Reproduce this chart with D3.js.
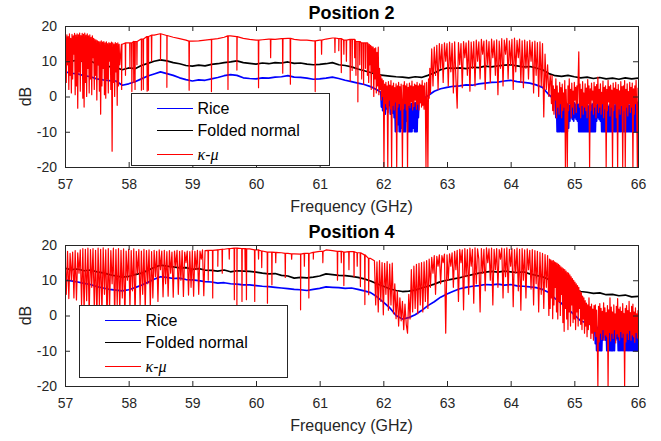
<!DOCTYPE html>
<html>
<head>
<meta charset="utf-8">
<script src="https://cdn.jsdelivr.net/npm/d3@7"></script>
<style>
    body { margin: 0; background: #fff; }
    text { font-family: "Liberation Sans", Arial, sans-serif; }
</style>
</head>
<body>
<div class="main_content"></div>
<script>

// Frequency grid (GHz) for the smooth series, and axis ticks
const freqGrid = d3.range(570, 661).map(d => d / 10);
const xTicks = [57, 58, 59, 60, 61, 62, 63, 64, 65, 66];
const yTicks = [-20, -10, 0, 10, 20];
const legendLabels = ['Rice', 'Folded normal', 'κ-μ'];
const panelTitles = ['Position 2', 'Position 4'];

// ---------- Position 2 ----------
const riceP2 = [
    7.0, 6.6, 6.4, 5.9, 5.6, 5.0, 4.7, 4.5, 4.4, 3.2,
    3.6, 4.2, 5.0, 5.8, 6.4, 7.0, 6.5, 6.0, 5.3, 4.8,
    4.4, 4.7, 4.6, 5.0, 5.4, 5.9, 6.2, 6.0, 5.3, 5.1,
    5.0, 5.3, 5.2, 5.5, 5.6, 5.9, 5.5, 5.4, 5.2, 4.9,
    5.0, 5.2, 5.5, 5.1, 4.6, 4.2, 3.8, 3.4, 2.8, 1.9,
    0.8, -0.5, -1.5, -2.0, -2.2, -1.8, -1.0, 0.2, 1.5, 2.2,
    2.6, 2.9, 3.0, 3.3, 3.2, 3.6, 3.8, 4.0, 4.1, 4.4,
    4.6, 4.2, 4.0, 3.8, 3.3, 2.6, 0.5, -1.5, -2.0, -2.2,
    -1.8, -2.5, -2.0, -2.8, -2.3, -2.6, -2.1, -2.9, -2.4, -2.0,
    -1.5
];
const foldedP2 = [
    10.2, 10.0, 10.3, 9.8, 10.1, 9.2, 8.8, 8.5, 8.2, 7.6,
    8.1, 7.9, 8.8, 9.4, 10.0, 10.4, 10.1, 9.6, 9.3, 8.8,
    8.6, 8.9, 8.7, 9.1, 9.3, 9.6, 9.8, 10.1, 9.6, 9.4,
    9.2, 9.5, 9.3, 9.6, 9.5, 9.8, 9.4, 9.5, 9.2, 9.0,
    9.1, 9.3, 9.6, 9.0, 8.8, 8.4, 7.8, 7.3, 6.8, 6.2,
    6.0, 5.8, 5.6, 5.5, 5.3, 5.6, 5.4, 6.0, 6.7, 7.6,
    8.1, 8.0, 8.1, 7.9, 8.3, 8.2, 8.6, 8.4, 8.7, 8.9,
    9.0, 8.7, 8.4, 8.5, 8.1, 7.6, 6.5, 5.9, 5.7, 6.0,
    5.6, 5.3, 5.5, 5.1, 5.4, 5.0, 5.2, 4.9, 5.3, 5.0,
    5.2
];
// dense stretches of the Rice curve, sampled every 0.01 GHz
const riceP2BurstA = {start: 61.96, step: 0.01, values: [
    1.2, -3, 0.8, -4, 1, -2, 0.5, -5, 0.2, -3.5,
    -0.2, -4.5, 0, -2.5, -0.5, -5, -0.8, -3, -1, -4.8,
    -1.2, -6, -1.3, -10, -1.5, -10, -1.8, -8, -1.6, -10,
    -2, -10, -1.8, -9, -2.1, -10, -2, -10, -2.3, -10,
    -2.2, -7, -2.1, -10, -2.4, -10, -2.2, -10, -2, -10,
    -2.1, -9, -1.9, -10, -1.8, -10, -1.7, -10, -1.5, -6,
    -1.3
]};
const riceP2BurstB = {start: 64.70, step: 0.01, values: [
    -1, -6, -1.5, -10, -1.8, -10, -2, -10, -1.6, -10,
    -2.2, -10, -1.9, -10, -2.4, -10, -2, -10, -2.3, -10,
    -2.1, -9, -2.5, -7, -2.2, -6, -2, -6.5, -2.4, -7,
    -1.8, -6, -2.2, -6.5, -1.9, -7, -2.3, -10, -2, -10,
    -2.5, -10, -2.1, -10, -2.6, -10, -2.2, -10, -2.4, -10,
    -2, -10, -2.7, -10, -2.3, -10, -2.5, -10, -2.1, -10,
    -2.8, -10, -2.4, -10, -2.6, -7, -2.2, -6, -2.5, -6.5,
    -2.3, -7, -2.7, -10, -2.2, -10, -2.6, -10, -2.4, -10,
    -2.6, -10, -2.2, -10, -2.8, -10, -2.3, -10, -2.5, -10,
    -2.1, -10, -2.7, -10, -2.3, -10, -2.9, -10, -2.4, -10,
    -2.6, -10, -2.2, -10, -2.8, -10, -2.5, -10, -2.3, -10,
    -2.7, -10, -2.4, -10, -2.1, -10, -2.6, -10, -2.2, -10,
    -2, -10, -2.4, -10, -1.8, -10, -2.2, -10, -1.6, -10,
    -1.5
]};
// kappa-mu: upper envelope in the calm part, single drop-outs, dense stretches
const kmuP2Calm = [
    [57.9, 14.8], [58.0, 15.2], [58.1, 15.6], [58.2, 16.3], [58.3, 17.0], [58.4, 17.4],
    [58.5, 17.8], [58.6, 17.3], [58.7, 16.8], [58.8, 16.4], [58.9, 16.0], [59.0, 15.7],
    [59.1, 15.8], [59.2, 16.0], [59.3, 16.2], [59.4, 16.4], [59.5, 16.8], [59.6, 17.2],
    [59.7, 17.0], [59.8, 16.5], [59.9, 16.2], [60.0, 16.0], [60.1, 16.1], [60.2, 16.3],
    [60.3, 16.2], [60.4, 16.4], [60.5, 16.5], [60.6, 16.2], [60.7, 16.0], [60.8, 16.0],
    [60.9, 15.8], [61.0, 16.0], [61.1, 16.3], [61.2, 16.6], [61.3, 16.4], [61.4, 16.0],
    [61.5, 16.2], [61.6, 15.6], [61.7, 15.2]
];
const kmuP2Dips = [
    [57.89, 2], [57.95, 6], [58.02, 8], [58.05, 1.4], [58.08, 4], [58.10, 2], [58.13, 9],
    [58.20, 1.8], [58.23, 2], [58.29, 1.5], [58.31, 1.8], [58.36, 10], [58.50, 10.4],
    [58.60, 2.6], [58.95, 1.8], [59.30, 1.4], [59.56, 2], [59.70, 7.5], [60.04, 2.5],
    [60.23, 11], [60.42, 6.6], [60.54, 3.5], [60.93, 1.4], [61.03, 12], [61.24, 12.5],
    [61.30, 13], [61.34, 6.8], [61.38, 12], [61.42, 10], [61.48, 4.4], [61.51, 7.4],
    [61.55, 11], [61.57, 6], [61.60, -1.5], [61.63, 9], [61.66, 5], [61.69, 3.5],
    [61.72, 8], [61.75, 6]
];
const kmuP2BurstA = {start: 57.00, step: 0.01, values: [
    -9, 17, 4, 17.5, 9, 17, 2, 17.8, 6, 16.5,
    1, 17.6, 5, 17.2, 12, 17.9, 0.5, 17.4, 3, 17.8,
    -3.3, 17.5, 7, 18, 1.5, 17.3, 10, 17.9, -0.5, 17.6,
    -3, 18, 4, 17.4, 0, 17.8, 8, 17.2, 1, 17.5,
    5, 16.8, 0.5, 17.2, 11, 16.5, 2, 16.2, 6, 16.0,
    -1, 15.8, 9, 15.6, 1.5, 15.5, -5, 15.8, 3, 15.4,
    8, 15.6, 0.5, 15.2, -0.5, 15.5, 5, 15.0, 1, 15.3,
    10, 15.1, 2, 15.4, -15.5, 15.2, 4, 14.9, 0, 15.3,
    7, 15.0, -2.5, 15.2, 3, 14.8, 9
]};
const kmuP2BurstB = {start: 61.76, step: 0.01, values: [
    15.0, 4, 14.8, 9, 14.5, 2, 14.2, 7, 14.0, 0,
    13.6, 5, 13.8, 1, 12.5, 3, 14, 0.5, 8, 2,
    6, -1, 5, 0, 4.5, -20, 3.5, -2, 4, -3,
    3, -20, 4.2, -1, 3.2, -3.5, 4.5, -20, 3, -2.5,
    3.8, -3.8, 2.5, -1.5, 3.6, -20, 3, -3, 4, -2,
    2.8, -3.8, 3.5, -1, -20, 3.2, -3.5, 4.2, -2, 3,
    -3.8, 3.6, -20, 2.6, -2.5, 3.8, -3.2, 3, -1.5, 4.4,
    -3.8, 2.8, -2.8, 3.5, -1, 3.2, -3.6, 4, -2.2, 3,
    -3.8, 3.6, -1.8, 3.2, -3, 4.5, -2.5, 3, -3.6, 3.8,
    -1, -20, 4, -2, -20, 5, -0.5, 8, 1
]};
const kmuP2BurstC = {start: 62.76, step: 0.02, values: [
    13.5, 3, 14, 6, 14.5, 2, 15, 8, 14.8, 4,
    15.2, 10, 15, 3, 15.4, 7, 15.1, 1, 15.5, 5,
    -3.3, 15.3, 9, 15, 2.5, 15.6, 11, 15.2, 6, 15.8,
    1.5, 15.4, 8, 15.6, 3, 16, 10, 15.5, 5, 16.2,
    12, 15.7, 2, 16, 9, 15.6, 4, 16.3, 11, 15.8,
    6, 16.1, 0.5, 15.7, 8, 16.4, 3, 16, 12, 16.5,
    5, 15.8, 9, 16.2, 2, 16.6, 7, 15.9, 11, 16.3,
    4, 15.8, 2.5, 16, 8, 15.6, 5, 15.9, 10, 15.4,
    1, 15.7, 6, 15.3, 0, 15.5, 3, 15, -5.8, 12,
    2, 9, 0, 6
]};
const kmuP2BurstD = {start: 64.63, step: 0.01, values: [
    4, -2, 6, -4, 3, -5, 2, -1, 5, -6,
    3, -3, 1, -5, 4, -2, 2.5, -6, 3.5, -4,
    1, -3, 4.5, -20, 2, -5, -20, 3, -4, 5,
    -2, 2, -6, 3.8, -3, 1.5, -5, 4, -1, 2.6,
    -4.5, 3, -2, 5, 12.7, -3, 3.5, -6, 2, -2.5,
    4.2, -5, 1, -3, 3.6, -4, 2.4, -6, 4.8, -2,
    3, -20, 2.2, -4, 3.8, -1, 1.5, -5, 4, -3,
    2.8, -6, 3.4, -2, 5.5, -4.5, 2, -3, 3.6, -5,
    1.2, -2, 4.4, -6, 2.6, -3.5, 3, -20, 2, -4,
    4.6, -1.5, 2.8, -5.5, 3.2, -3, 1.8, -20, 3.8, -4,
    2.4, -2, 4, -6, 2, -20, 3.4, -3.5, 1.6, -5,
    4.2, -2.5, 2.8, -20, 3, -4, 4.5, -20, 2, -3,
    3.6, -5.5, 1.4, -2, 4, -4.5, 2.6, -3, 3.8, -20,
    2.2, -5, 3, -2, 4.6, -4, -20, 2.5
]};

// ---------- Position 4 ----------
const riceP4 = [
    10.1, 9.8, 9.5, 9.1, 8.8, 8.2, 7.8, 7.4, 7.2, 7.0,
    7.3, 7.9, 8.6, 9.4, 10.3, 11.0, 10.8, 10.5, 10.6, 10.2,
    10.1, 9.9, 9.6, 9.5, 9.2, 9.3, 9.0, 8.9, 8.7, 8.7,
    8.5, 8.3, 8.2, 8.0, 7.8, 7.6, 7.4, 7.3, 7.1, 7.4,
    7.7, 8.1, 8.0, 7.9, 7.7, 7.8, 7.4, 7.0, 6.5, 5.3,
    3.8, 2.2, 0.0, -1.0, -0.6, 0.2, 1.4, 2.8, 3.9, 5.2,
    6.1, 6.9, 7.6, 8.0, 8.3, 8.5, 8.8, 8.7, 8.9, 8.6,
    8.8, 8.4, 8.3, 8.1, 7.9, 7.4, 6.5, 4.8, 3.4, 1.8,
    0.2, -1.5, -2.2, -3.0, -3.4, -3.2, -3.6, -3.1, -3.5, -3.0,
    -2.5
];
const foldedP4 = [
    13.4, 13.0, 13.2, 12.7, 12.9, 12.4, 12.1, 11.6, 11.2, 10.9,
    11.1, 11.6, 12.0, 12.8, 13.6, 14.3, 14.0, 13.8, 13.5, 13.6,
    13.1, 13.3, 12.9, 12.8, 12.6, 12.9, 12.4, 12.7, 12.6, 12.5,
    12.3, 12.0, 11.8, 11.9, 11.4, 11.2, 10.6, 10.8, 10.7, 10.9,
    11.2, 11.8, 11.6, 11.4, 11.3, 11.1, 10.8, 10.4, 9.8, 9.0,
    8.3, 7.6, 7.1, 6.8, 6.9, 7.2, 7.8, 8.3, 8.9, 9.6,
    10.0, 10.4, 10.7, 11.2, 11.6, 12.0, 12.3, 12.5, 12.3, 12.6,
    12.4, 12.2, 12.4, 11.8, 11.4, 11.0, 10.2, 9.4, 8.6, 7.8,
    7.3, 6.8, 6.6, 6.3, 6.4, 5.9, 6.0, 5.6, 5.8, 5.3,
    5.4
];
const riceP4Burst = {start: 65.32, step: 0.01, values: [
    -3, -8, -3.2, -10, -3.4, -10, -3, -10, -3.5, -10,
    -3.2, -10, -3.6, -7, -3.1, -6, -3.3, -7, -3.4, -10,
    -3, -10, -3.5, -10, -3.2, -10, -3.7, -10, -3.3, -10,
    -3.5, -10, -3.1, -7, -3.4, -6.5, -3.2, -10, -3.6, -10,
    -3.3, -10, -3.5, -10, -3.2, -10, -3.6, -10, -3.4, -10,
    -3.1, -10, -3.5, -10, -3.3, -10, -3, -10, -3.4, -10,
    -2.9, -10, -3.1, -10, -2.8, -10, -2.6, -10, -2.5
]};
const kmuP4Calm = [
    [59.3, 18.5], [59.4, 18.6], [59.5, 18.8], [59.6, 19.0], [59.7, 19.1], [59.8, 19.0],
    [59.9, 18.9], [60.0, 18.6], [60.1, 18.3], [60.2, 18.0], [60.3, 17.9], [60.4, 17.8],
    [60.5, 17.6], [60.6, 17.5], [60.7, 17.4], [60.8, 17.6], [60.9, 17.9], [61.0, 18.2],
    [61.1, 18.6], [61.2, 18.4], [61.3, 18.2], [61.4, 18.0], [61.5, 18.1], [61.6, 17.8],
    [61.7, 17.2], [61.8, 16.2]
];
const kmuP4Dips = [
    [59.25, 10], [59.32, 5], [59.40, 14], [59.47, 12], [59.58, 16], [59.66, 4.5],
    [59.70, 3], [59.78, 4], [59.83, 13], [59.85, 4.5], [59.98, 4], [60.04, 16],
    [60.09, 13.6], [60.18, 3.5], [60.25, 8.7], [60.31, 15], [60.46, 10.8], [60.56, 16],
    [60.70, 1.6], [60.76, 14], [60.83, 5], [60.90, 16], [61.05, 15], [61.28, 10],
    [61.34, 15], [61.38, 8.5], [61.46, 13], [61.54, 11], [61.59, 14], [61.64, 8.2],
    [61.71, 3.1], [61.77, 5.9]
];
const kmuP4BurstA = {start: 57.00, step: 0.02, values: [
    18, 6, 18.2, 4.8, 17.6, 10, 18, 5, 18.4, 4.4,
    17.8, 12, 18.6, 3, 19, 1, 18.8, 4.2, 19.1, 0,
    18.7, 8, 19, 2, 18.5, -1, 19.1, 3, 18.8, 0.5,
    19.2, 6, 18.6, -2, 19, 2, 18.4, 9, 19.1, 0,
    18.7, 3, 19, 1, 18.5, 5, 18.9, -1, 18.3, 10,
    18.8, 2, 18.4, 7, 18.9, 0, 18.2, 12, 18.7, 3,
    18.3, 6, 18.8, 1.5, 18.4, 9, 18.6, 2.5, 18.1, 5,
    18.5, 11, 18.2, 4, 18.6, 13, 18.3, 5.3, 18.5, 9,
    18.1, 5.5, 18.4, 12, 18, 5.2, 18.3, 14, 18.5, 6,
    18.2, 10, 18.4, 5.4, 18, 15, 18.3, 5.8, 18.1, 8,
    18.4, 5.5, 18.2, 13, 18.5, 6, 18.3, 16, 18.6, 5.6,
    18.4
]};
const kmuP4BurstB = {start: 61.86, step: 0.02, values: [
    15.5, 3, 15.2, 1, 15.6, 4, 15, 0.2, 14.8, 6,
    15.3, 1.5, 14.6, 3, 14.9, 0.5, 9, -0.9, 7, -3,
    5, -1.5, 4, -4, 3.2, -2.5, -5, 6, -1, 13,
    1, 14, 2, 14.5, 0.5, 14.8, 3, 15, 1, 15.2,
    4, 15.6, 2, 16, 8, 16.5, 12, 17, 6, 16.8,
    14, 17.2, 9, 17, 15, 17.4, -5, 17.2, 10, 17.5,
    14
]};
const kmuP4BurstC = {start: 63.08, step: 0.02, values: [
    17.8, 8, 18.2, 13, 18.5, 4, 18.8, 15, 18.6, 1.6,
    19, 11, 18.7, 6, 19.1, 14, 18.8, 3.5, 19.2, 9,
    18.9, 16, 1, 19, 12, 18.8, 7, 19.2, 15, 18.9,
    10, 19.1, 3, 18.8, 13, 19, 8, 18.7, 16, 19.1,
    5, 18.9, 11, 19.2, 6.5, 18.8, 14, 19, 2.5, 18.7,
    12, 19.1, 7, 18.8, 1.5, 19, 10, 18.6, 5, 18.9,
    13, 18.5, 7.5, 18.7, 3, 18.4, 9, 18.2, 1, 17.9,
    6, 17.6, 2, 17.3, 8, 17, 0
]};
const kmuP4BurstD = {start: 64.61, step: 0.01, values: [
    16, 2, 15.8, 5, 15.5, -0.9, 15.6, 3, 15.2, 8,
    15, 1, 14.8, -1, 14.5, 4, 14.2, 0, 13.8, 6,
    13.5, -2, 13.2, -4.5, 13, 2, 12.6, -1, 12.2, -4,
    12, 1, 11.5, -3, 11, 3, 10.5, -2, 10, -1,
    9.5, -4, 9, 1, 8.5, -3, 8, 2, 7, -2.5,
    6.5, -4, 5.5, -1, 5, -5, 4.2, -3, 3.5, -6,
    3, -4, 5, -2.5, 2.5, -6.5, 3.2, -5, 1.8, -7,
    2.8, -4.5, 3, -6, 1.5, -5.5, -20, 2.6, -7.5, 3.4,
    -5, 2, -6.8, 1.2, -4, 3.6, -7, 2.2, -5.5, 0.8,
    -6, 2.8, -20, 1.6, -4.8, 5, -7.2, 2.4, -5, 1,
    -6.5, 3, -4, 0.5, -7.8, 2.6, -5.2, 4.8, -6, 1.8,
    -7, 2.4, -4.5, 1.2, -6.2, 3.4, -5, 0.6, -20, 2,
    -7.5, 2.8, -5, 1.4, -6.8, 4, -4.2, 0.8, -7, 2.6,
    -5.5, 3.2, -6, 1, -7.6, 2.2, -4.8, 0.5, -6.4, 1.5
]};


// helpers to turn the arrays above into [freq, dB] point lists
function burstPoints (bursts) {
    let pts = [];
    bursts.forEach(b => {
        b.values.forEach((v, i) => pts.push([+(b.start + i * b.step).toFixed(3), v]));
    });
    return pts;
}

function inBurst (f, bursts) {
    return bursts.some(b => f >= b.start - 1e-6 && f <= b.start + (b.values.length - 1) * b.step + 1e-6);
}

function gridSeries (values, bursts) {
    let pts = freqGrid.map((f, i) => [f, values[i]])
        .filter(p => !inBurst(p[0], bursts));
    return pts.concat(burstPoints(bursts)).sort((a, b) => a[0] - b[0]);
}

function kmuSeries (calm, dips, bursts) {
    let pts = calm.slice();
    dips.forEach(dip => {
        // shoulder of the drop-out sits on the nearest envelope value
        let base = calm.reduce((best, c) => Math.abs(c[0] - dip[0]) < Math.abs(best[0] - dip[0]) ? c : best)[1];
        pts.push([dip[0] - 0.004, base], dip, [dip[0] + 0.004, base]);
    });
    return pts.concat(burstPoints(bursts)).sort((a, b) => a[0] - b[0]);
}


/**
 * One subplot: three measured fits over 57-66 GHz, matlab style box axes.
 */
class PositionChart {
    constructor (svg) {
        this.svg = svg;
        this.plotLeft = 65;
        this.plotRight = 638;
        this.plotHeight = 141;
        this.axisColor = '#262626';
        this.colors = ['#0000ff', '#000000', '#ff0000'];
        // measured curves are noisy, so the smooth ones get a bit of body
        this.widths = [1.7, 1.7, 1.2];
        this.xScale = d3.scaleLinear()
            .domain([57, 66])
            .range([this.plotLeft, this.plotRight]);
    }

    styleAxis (g, size) {
        g.attr('font-family', null).attr('font-size', null);
        g.select('.domain').remove();
        g.selectAll('line').attr('stroke', this.axisColor);
        g.selectAll('text')
            .style('font-size', size + 'px')
            .attr('fill', this.axisColor);
    }

    render (p) {
        let top = p.top;
        let bottom = top + this.plotHeight;
        let that = this;

        let yScale = d3.scaleLinear()
            .domain([-20, 20])
            .range([bottom, top]);

        let panel = this.svg.append('g').classed('panel', true);

        panel.append('clipPath')
            .attr('id', 'clip' + p.id)
            .append('rect')
            .attr('x', this.plotLeft)
            .attr('y', top)
            .attr('width', this.plotRight - this.plotLeft)
            .attr('height', this.plotHeight);

        // Series, drawn in legend order so kappa-mu ends on top
        let series = [
            gridSeries(p.rice, p.riceBursts),
            gridSeries(p.folded, []),
            kmuSeries(p.kmuCalm, p.kmuDips, p.kmuBursts)
        ];

        let line = d3.line()
            .x(d => this.xScale(d[0]))
            .y(d => yScale(d[1]));

        panel.append('g')
            .attr('clip-path', 'url(#clip' + p.id + ')')
            .selectAll('path')
            .data(series)
            .enter()
            .append('path')
            .attr('d', d => line(d))
            .attr('fill', 'none')
            .attr('stroke', (d, i) => this.colors[i])
            .attr('stroke-width', (d, i) => this.widths[i])
            .attr('stroke-linejoin', 'round');

        // Axes, ticks pointing inward on all four sides
        let xAxis = d3.axisBottom(this.xScale).tickValues(xTicks).tickSize(-5).tickPadding(12).tickFormat(d => d);
        let xAxisTop = d3.axisTop(this.xScale).tickValues(xTicks).tickSize(-5).tickFormat('');
        let yAxis = d3.axisLeft(yScale).tickValues(yTicks).tickSize(-5).tickPadding(8).tickFormat(d => d);
        let yAxisRight = d3.axisRight(yScale).tickValues(yTicks).tickSize(-5).tickFormat('');

        panel.append('g').attr('transform', 'translate(0,' + bottom + ')').call(xAxis).call(g => that.styleAxis(g, 14));
        panel.append('g').attr('transform', 'translate(0,' + top + ')').call(xAxisTop).call(g => that.styleAxis(g, 14));
        panel.append('g').attr('transform', 'translate(' + this.plotLeft + ',0)').call(yAxis).call(g => that.styleAxis(g, 14));
        panel.append('g').attr('transform', 'translate(' + this.plotRight + ',0)').call(yAxisRight).call(g => that.styleAxis(g, 14));

        panel.append('rect')
            .attr('x', this.plotLeft + 0.5)
            .attr('y', top + 0.5)
            .attr('width', this.plotRight - this.plotLeft)
            .attr('height', this.plotHeight)
            .attr('fill', 'none')
            .attr('stroke', this.axisColor)
            .attr('stroke-width', 1);

        // Title and labels
        panel.append('text')
            .attr('x', (this.plotLeft + this.plotRight) / 2)
            .attr('y', top - 7)
            .attr('text-anchor', 'middle')
            .style('font-size', '18px')
            .style('font-weight', 'bold')
            .text(p.title);

        panel.append('text')
            .attr('x', (this.plotLeft + this.plotRight) / 2)
            .attr('y', bottom + 44.5)
            .attr('text-anchor', 'middle')
            .attr('fill', this.axisColor)
            .style('font-size', '16px')
            .text('Frequency (GHz)');

        panel.append('text')
            .attr('transform', 'translate(31,' + (top + bottom) / 2 + ') rotate(-90)')
            .attr('text-anchor', 'middle')
            .attr('fill', this.axisColor)
            .style('font-size', '16px')
            .text('dB');

        // Legend
        let lg = panel.append('g')
            .classed('legend', true)
            .attr('transform', 'translate(' + p.legend.x + ',' + p.legend.y + ')');

        lg.append('rect')
            .attr('x', 0.5)
            .attr('y', 0.5)
            .attr('width', p.legend.w)
            .attr('height', p.legend.h)
            .attr('fill', '#fff')
            .attr('stroke', this.axisColor)
            .attr('stroke-width', 1);

        let rowY = [15.5, 37.5, 61.5];
        let entries = lg.selectAll('g.entry')
            .data(legendLabels)
            .enter()
            .append('g')
            .classed('entry', true)
            .attr('transform', (d, i) => 'translate(0,' + rowY[i] + ')');

        entries.append('line')
            .attr('x1', 26)
            .attr('x2', 62)
            .attr('stroke', (d, i) => this.colors[i])
            .attr('stroke-width', 1);

        entries.each(function (d, i) {
            let t = d3.select(this).append('text')
                .attr('x', 66.5)
                .attr('dy', '0.36em')
                .attr('fill', '#000')
                .style('font-size', '16px');
            if (i < 2) {
                t.text(d);
            } else {
                // TeX style greek letters
                t.append('tspan').style('font-family', '"Liberation Serif", serif').style('font-style', 'italic').text('κ');
                t.append('tspan').text('-');
                t.append('tspan').style('font-family', '"Liberation Serif", serif').style('font-style', 'italic').text('μ');
            }
        });
    }
}


let svg = d3.select('.main_content')
    .append('svg')
    .attr('width', 661)
    .attr('height', 441)
    .style('display', 'block');

let chart = new PositionChart(svg);

chart.render({
    id: 'p2', title: panelTitles[0], top: 26,
    rice: riceP2, folded: foldedP2, riceBursts: [riceP2BurstA, riceP2BurstB],
    kmuCalm: kmuP2Calm, kmuDips: kmuP2Dips, kmuBursts: [kmuP2BurstA, kmuP2BurstB, kmuP2BurstC, kmuP2BurstD],
    legend: {x: 131, y: 93, w: 198, h: 72}
});

chart.render({
    id: 'p4', title: panelTitles[1], top: 245,
    rice: riceP4, folded: foldedP4, riceBursts: [riceP4Burst],
    kmuCalm: kmuP4Calm, kmuDips: kmuP4Dips, kmuBursts: [kmuP4BurstA, kmuP4BurstB, kmuP4BurstC, kmuP4BurstD],
    legend: {x: 79, y: 305, w: 208, h: 72}
});

</script>
</body>
</html>
